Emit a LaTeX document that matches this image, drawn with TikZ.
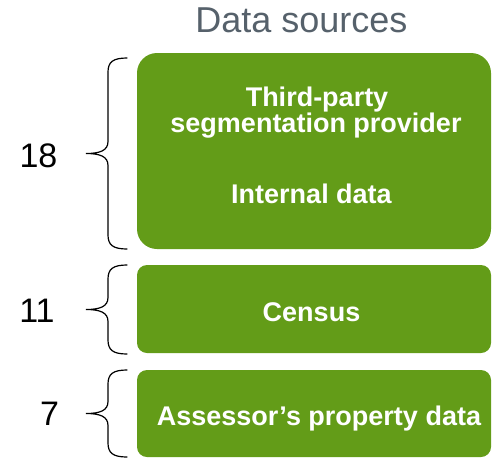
\documentclass[tikz,border=0pt]{standalone}
\usepackage{fontspec}
\setmainfont{Liberation Sans}
\usepackage{tikz}
\usetikzlibrary{positioning}
\definecolor{srcgreen}{RGB}{99,156,24}
\definecolor{titlegray}{RGB}{86,97,107}
% curly brace on the left of a box: top y, bottom y
\newcommand{\sizebrace}[2]{%
  \pgfmathsetmacro{\bmid}{(#1+#2)/2}
  \draw[brc] (127,#1) .. controls (113,#1) and (108,#1+4) .. (108,#1+14)
    -- (108,\bmid-12) .. controls (108,\bmid-3) and (100,\bmid) .. (86,\bmid)
    .. controls (100,\bmid) and (108,\bmid+3) .. (108,\bmid+12)
    -- (108,#2-14) .. controls (108,#2-4) and (113,#2) .. (127,#2);}

\begin{document}
\begin{tikzpicture}[
  x=1pt, y=-1pt,
  src/.style={fill=srcgreen, draw=none, minimum width=354pt, inner sep=0pt},
  lbl/.style={font=\fontsize{27}{27}\selectfont\bfseries, text=white, anchor=base, inner sep=0pt},
  num/.style={font=\fontsize{34}{34}\selectfont, anchor=base, inner sep=0pt},
  brc/.style={line width=1.2pt, line cap=round},
]
\useasboundingbox (0,0) rectangle (492,458);
\node[font=\fontsize{36}{36}\selectfont, text=titlegray, anchor=base, inner sep=0pt] (title) at (301.5,32) {Data sources};
% boxes
\node[src, rounded corners=20pt, minimum height=196pt] (bxA) at (314,151) {};
\node[src, rounded corners=10pt, minimum height=88pt] (bxB) at (314,309) {};
\node[src, rounded corners=10pt, minimum height=87pt] (bxC) at (314,413.5) {};
\node[lbl] (third) at (317,106) {Third-party};
\node[lbl] (segm) at (316,132) {segmentation provider};
\node[lbl] (intern) at (311.5,203) {Internal data};
\node[lbl] (census) at (311.5,321) {Census};
\node[lbl] (assess) at (319,425) {Assessor’s property data};
% braces and counts
\sizebrace{58}{249}
\sizebrace{265}{354}
\sizebrace{370}{457}
\node[num] (nA) at (38.5,167) {18};
\node[num] (nB) at (37,322) {11};
\node[num] (nC) at (49.5,425) {7};
\end{tikzpicture}
\end{document}
